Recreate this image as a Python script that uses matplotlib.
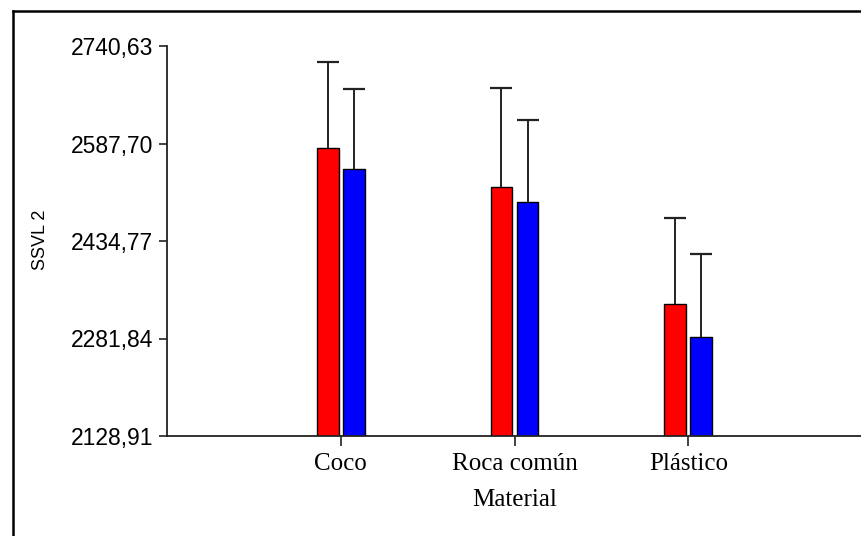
import numpy as np
import matplotlib
matplotlib.use("Agg")
import matplotlib.pyplot as plt
from matplotlib.lines import Line2D

materiales = ["Coco", "Roca común", "Plástico"]
serie_roja = [2580.6, 2519.9, 2335.9]
error_rojo = [134.5, 154.4, 135.4]
serie_azul = [2547.2, 2496.4, 2284.7]
error_azul = [126.0, 127.7, 129.7]
yticks = [2128.91, 2281.84, 2434.77, 2587.70, 2740.63]

W, H = 862, 536
fig = plt.figure(figsize=(W / 100, H / 100), dpi=100)
ax = fig.add_axes([167 / W, 1 - 436 / H, 1 - 167 / W, (436 - 46) / H])

x = np.arange(1, len(materiales) + 1)
ancho = 0.125
ekw = dict(ecolor="#222222", elinewidth=1.4, capsize=8, capthick=1.6)
b1 = ax.bar(x - 0.075, serie_roja, ancho, color="#ff0000", edgecolor="black",
            linewidth=1.0, yerr=[np.zeros(3), error_rojo], error_kw=ekw)
b2 = ax.bar(x + 0.075, serie_azul, ancho, color="#0000ff", edgecolor="black",
            linewidth=1.0, yerr=[np.zeros(3), error_azul], error_kw=ekw)
# solo la barra de error superior: ocultar el tope inferior
for b in (b1, b2):
    b.errorbar.lines[1][0].set_visible(False)

ax.set_xlim(0, 4)
ax.set_ylim(yticks[0], yticks[-1])
ax.set_yticks(yticks)
ax.set_yticklabels([f"{v:.2f}".replace(".", ",") for v in yticks],
                   family="Liberation Sans", fontsize=16.5)
ax.set_xticks(x)
ax.set_xticklabels(materiales, family="Liberation Serif", fontsize=18)
ax.tick_params(axis="y", length=6, width=1.2, pad=4, colors="#222222")
ax.tick_params(axis="x", length=7, width=1.2, pad=5, colors="#222222")
for lab in ax.get_xticklabels() + ax.get_yticklabels():
    lab.set_color("black")

for s in ["top", "right"]:
    ax.spines[s].set_visible(False)
for s in ["left", "bottom"]:
    ax.spines[s].set_linewidth(1.3)
    ax.spines[s].set_color("#222222")

ax.set_xlabel("Material", family="Liberation Serif", fontsize=18, labelpad=10)
fig.text(41 / W, 1 - 240 / H, "SSVL 2", rotation=90, ha="center", va="center",
         family="Liberation Sans", fontsize=13)

# marco exterior (izquierda y arriba)
fig.add_artist(Line2D([13 / W, 13 / W], [0, 1 - 11 / H], color="black", lw=1.8))
fig.add_artist(Line2D([13 / W, 1], [1 - 11 / H, 1 - 11 / H], color="black", lw=1.8))

fig.savefig("out.png", dpi=100)
